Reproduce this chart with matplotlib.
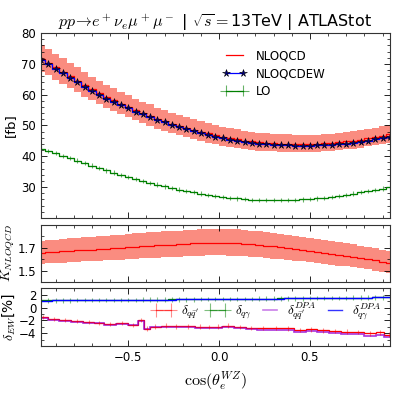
import numpy as np
import matplotlib
matplotlib.use('Agg')
import matplotlib.pyplot as plt
from matplotlib.ticker import MultipleLocator, FixedLocator
from matplotlib.lines import Line2D

plt.rcParams['mathtext.fontset'] = 'cm'
plt.rcParams['font.size'] = 8

# cos(theta_e^WZ) bin centres (width 0.04)
bin_width = 0.04
centers = np.round(-0.98 + bin_width * np.arange(49), 3)

# top panel [fb]
nloqcd = [71.6, 70.4, 68.9, 67.5, 66.0, 64.6, 63.1, 61.8, 60.5, 59.2, 58.2, 57.1, 56.1, 55.0, 54.1,
          53.2, 52.2, 51.5, 50.6, 49.9, 49.2, 48.6, 48.0, 47.4, 46.9, 46.4, 45.9, 45.6, 45.1, 44.8,
          44.6, 44.4, 44.3, 44.1, 44.1, 44.0, 44.0, 44.0, 44.1, 44.2, 44.3, 44.6, 44.8, 45.1, 45.4,
          45.8, 46.2, 46.7, 47.1]
nloqcdew = [71.2, 70.0, 68.4, 67.0, 65.5, 64.1, 62.6, 61.3, 60.0, 58.7, 57.7, 56.6, 55.6, 54.5, 53.6,
            52.7, 51.7, 51.0, 50.1, 49.4, 48.7, 48.1, 47.5, 46.9, 46.4, 45.9, 45.4, 45.1, 44.6, 44.3,
            44.1, 43.9, 43.8, 43.5, 43.5, 43.4, 43.4, 43.4, 43.5, 43.5, 43.6, 43.9, 44.1, 44.4, 44.7,
            45.1, 45.5, 46.0, 46.4]
lo = [42.5, 41.8, 41.0, 40.2, 39.4, 38.6, 37.8, 37.0, 36.2, 35.4, 34.7, 34.0, 33.3, 32.6, 32.0,
      31.4, 30.8, 30.2, 29.7, 29.2, 28.7, 28.3, 27.9, 27.5, 27.1, 26.8, 26.5, 26.3, 26.1, 25.9,
      25.8, 25.8, 25.8, 25.8, 25.9, 25.9, 26.0, 26.1, 26.3, 26.5, 26.8, 27.1, 27.5, 27.9, 28.3,
      28.7, 29.1, 29.5, 29.9]
# scale uncertainty [%]
scale_up = [6.4, 6.4, 6.5, 6.5, 6.5, 6.6, 6.6, 6.6, 6.7, 6.7, 6.7, 6.7, 6.8, 6.8, 6.8, 6.8, 6.8,
            6.9, 6.9, 6.9, 6.9, 6.9, 6.9, 6.9, 6.9, 6.9, 6.9, 6.9, 6.9, 6.9, 6.9, 6.9, 6.9, 6.8,
            6.8, 6.8, 6.8, 6.8, 6.7, 6.7, 6.7, 6.7, 6.6, 6.6, 6.6, 6.6, 6.5, 6.5, 6.5]
scale_down = [5.7, 5.7, 5.8, 5.8, 5.8, 5.9, 5.9, 5.9, 6.0, 6.0, 6.0, 6.1, 6.1, 6.1, 6.1, 6.2, 6.2,
              6.2, 6.2, 6.3, 6.3, 6.3, 6.3, 6.3, 6.3, 6.3, 6.3, 6.3, 6.3, 6.2, 6.2, 6.2, 6.2, 6.1,
              6.1, 6.1, 6.0, 6.0, 6.0, 5.9, 5.9, 5.9, 5.8, 5.8, 5.8, 5.7, 5.7, 5.6, 5.6]

# K factor
k_nloqcd = [1.653, 1.658, 1.662, 1.667, 1.671, 1.675, 1.679, 1.683, 1.688, 1.692, 1.696, 1.700,
            1.704, 1.708, 1.711, 1.715, 1.719, 1.722, 1.726, 1.729, 1.733, 1.737, 1.741, 1.744,
            1.744, 1.743, 1.741, 1.738, 1.734, 1.729, 1.723, 1.717, 1.710, 1.703, 1.696, 1.689,
            1.681, 1.673, 1.665, 1.657, 1.648, 1.640, 1.631, 1.622, 1.612, 1.602, 1.591, 1.578, 1.565]

# EW corrections [%]
d_qa = [1.12, 1.13, 1.14, 1.15, 1.15, 1.16, 1.17, 1.18, 1.19, 1.20, 1.21, 1.22, 1.22, 1.23, 1.24,
        1.25, 1.26, 1.27, 1.28, 1.29, 1.30, 1.31, 1.32, 1.33, 1.34, 1.35, 1.36, 1.37, 1.38, 1.39,
        1.40, 1.41, 1.42, 1.43, 1.44, 1.45, 1.46, 1.47, 1.48, 1.49, 1.50, 1.52, 1.53, 1.55, 1.56,
        1.58, 1.60, 1.62, 1.64]
d_qa_dpa = [1.10, 1.11, 1.12, 1.13, 1.14, 1.15, 1.16, 1.17, 1.18, 1.19, 1.20, 1.21, 1.21, 1.22,
            1.23, 1.24, 1.25, 1.26, 1.27, 1.28, 1.29, 1.30, 1.31, 1.32, 1.33, 1.34, 1.35, 1.36,
            1.37, 1.38, 1.39, 1.40, 1.41, 1.42, 1.43, 1.44, 1.45, 1.46, 1.47, 1.48, 1.49, 1.51,
            1.52, 1.54, 1.55, 1.57, 1.59, 1.61, 1.63]

qq_edges = [-1.0, -0.943, -0.879, -0.814, -0.750, -0.686, -0.631, -0.567, -0.502, -0.447, -0.414,
            -0.383, -0.318, -0.263, -0.208, -0.135, -0.080, -0.030, 0.017, 0.081, 0.146, 0.210,
            0.274, 0.348, 0.412, 0.476, 0.541, 0.605, 0.669, 0.734, 0.798, 0.862, 0.908, 0.96]
d_qq = [-1.50, -1.80, -1.96, -2.12, -2.27, -2.38, -2.59, -2.43, -2.69, -1.96, -3.30, -2.98, -2.83,
        -2.92, -2.92, -2.96, -3.00, -2.99, -2.83, -3.03, -3.18, -3.22, -3.22, -3.26, -3.52, -3.41,
        -3.56, -3.66, -3.77, -3.82, -4.02, -3.86, -4.22]
d_qq_dpa = [-1.58, -1.89, -2.05, -2.21, -2.36, -2.47, -2.68, -2.52, -2.78, -2.05, -3.40, -3.10,
            -2.96, -3.06, -3.07, -3.12, -3.18, -3.19, -3.05, -3.26, -3.42, -3.48, -3.49, -3.55,
            -3.82, -3.72, -3.89, -3.99, -4.10, -4.17, -4.38, -4.22, -4.59]

nloqcd = np.array(nloqcd)
k_nloqcd = np.array(k_nloqcd)
up = 1 + np.array(scale_up) / 100
down = 1 - np.array(scale_down) / 100

fig = plt.figure(figsize=(3.99, 3.99), dpi=100)
ax1 = fig.add_axes([0.103, 0.454, 0.874, 0.463])
ax2 = fig.add_axes([0.103, 0.293, 0.874, 0.144], sharex=ax1)
ax3 = fig.add_axes([0.103, 0.133, 0.874, 0.144], sharex=ax1)

# top panel
ax1.fill_between(centers, nloqcd * down, nloqcd * up, step='mid', color='salmon', alpha=0.9, lw=0)
ax1.plot(centers, nloqcd, color='r', lw=0.9, drawstyle='steps-mid', label='NLOQCD')
ax1.plot(centers, nloqcdew, color='b', lw=0.9, drawstyle='steps-mid',
         marker='*', ms=5.5, mfc='navy', mec='black', mew=0.4, label='NLOQCDEW')
lo_line, = ax1.plot(centers, lo, color='g', lw=0.9, drawstyle='steps-mid')
lo_err = ax1.errorbar(centers, lo, xerr=bin_width / 2, yerr=0.7, fmt='none',
                      ecolor='g', elinewidth=0.8, alpha=0.6)
ax1.set_ylim(20, 80)
ax1.set_ylabel('[fb]', fontsize=9.5)
ax1.yaxis.set_major_locator(FixedLocator([30, 40, 50, 60, 70, 80]))
ax1.yaxis.set_minor_locator(MultipleLocator(2))
ax1.set_title(r'$pp\!\to\! e^+\nu_e\mu^+\mu^-$ | $\sqrt{s}=$13TeV | ATLAStot', fontsize=11.5, pad=3)
h, l = ax1.get_legend_handles_labels()
h.append((lo_line, lo_err))
l.append('LO')
ax1.legend(h, l, loc='upper left', bbox_to_anchor=(0.49, 0.97), frameon=False,
           numpoints=2, fontsize=8.5, handlelength=2.0, labelspacing=0.4)

# K factor panel
ax2.fill_between(centers, k_nloqcd * down, k_nloqcd * up, step='mid', color='salmon', alpha=0.9, lw=0)
ax2.plot(centers, k_nloqcd, color='r', lw=0.9, drawstyle='steps-mid')
ax2.set_ylim(1.4, 1.9)
ax2.yaxis.set_major_locator(FixedLocator([1.5, 1.7]))
ax2.yaxis.set_minor_locator(MultipleLocator(0.1))
ax2.set_ylabel(r'$K_{NLOQCD}$', fontsize=10)

# EW corrections panel
qq_c = 0.5 * (np.array(qq_edges[1:]) + np.array(qq_edges[:-1]))
qq_w = 0.5 * np.diff(qq_edges)
qa_line, = ax3.plot(centers, d_qa, color='g', lw=0.9, drawstyle='steps-mid')
e_qa = ax3.errorbar(centers, d_qa, xerr=bin_width / 2, yerr=0.35, fmt='none', ecolor='g',
                    elinewidth=0.8, alpha=0.5, capsize=0)
ax3.stairs(d_qq, qq_edges, color='r', lw=0.9)
qq_line = Line2D([], [], color='r', lw=0.9, alpha=0.6)
e_qq = ax3.errorbar(qq_c, d_qq, xerr=qq_w, yerr=0.35, fmt='none', ecolor='r',
                    elinewidth=0.8, alpha=0.45, capsize=0)
ax3.stairs(d_qq_dpa, qq_edges, color='darkviolet', lw=1.2, alpha=0.8)
ax3.plot(centers, d_qa_dpa, color='b', lw=1.0, drawstyle='steps-mid')
ax3.set_ylim(-6, 3)
ax3.yaxis.set_major_locator(FixedLocator([-4, -2, 0, 2]))
ax3.yaxis.set_minor_locator(MultipleLocator(1))
ax3.set_ylabel(r'$\delta_{EW}$[%]', fontsize=10)
ax3.set_xlabel(r'$\cos(\theta_e^{WZ})$', fontsize=11.5)
handles = [(qq_line, e_qq), (Line2D([], [], color='g', lw=0.9, alpha=0.6), e_qa),
           Line2D([], [], color='darkviolet', alpha=0.5, lw=1.2),
           Line2D([], [], color='b', alpha=0.8, lw=1.0)]
labels = [r'$\delta_{q\bar{q}^\prime}$', r'$\delta_{q\gamma}$',
          r'$\delta_{q\bar{q}^\prime}^{DPA}$', r'$\delta_{q\gamma}^{DPA}$']
ax3.legend(handles, labels, loc='center left', bbox_to_anchor=(0.285, 0.6), ncol=4,
           frameon=False, fontsize=9.5, handlelength=1.7, columnspacing=0.55,
           handletextpad=0.45, numpoints=2)

ax1.set_xlim(-0.98, 0.94)
ax3.xaxis.set_major_locator(MultipleLocator(0.5))
ax3.xaxis.set_minor_locator(MultipleLocator(0.1))
for ax in (ax1, ax2, ax3):
    ax.tick_params(which='both', direction='in', top=True, right=True, labelsize=8.5)
    ax.tick_params(which='major', length=4, width=0.6)
    ax.tick_params(which='minor', length=2, width=0.5)
    for s in ax.spines.values():
        s.set_linewidth(0.8)
        s.set_color('#333333')
    ax.yaxis.set_label_coords(-0.068, 0.5)
ax1.tick_params(labelbottom=False)
ax2.tick_params(labelbottom=False)

fig.savefig('out.png', dpi=100)
